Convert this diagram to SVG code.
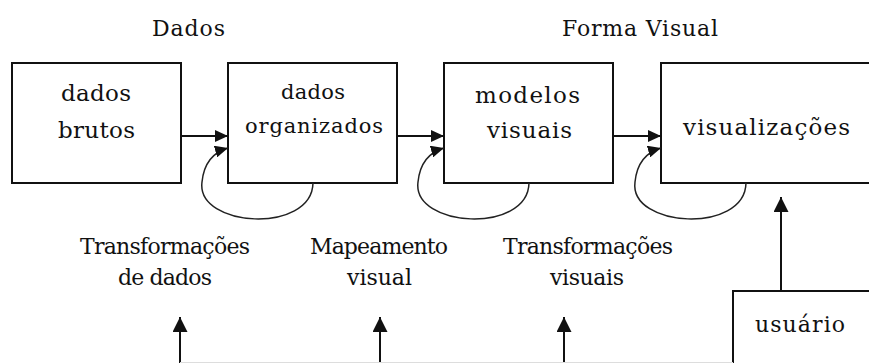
<svg xmlns="http://www.w3.org/2000/svg" width="869" height="363" viewBox="0 0 869 363">
<defs>
<style>
.box{fill:#fff;stroke:#111;stroke-width:2}
.t{font-family:'DejaVu Serif','Liberation Serif',serif;font-size:22px;fill:#111}
.b{font-size:23px}
.s{font-size:21px}
.ln{fill:none;stroke:#111;stroke-width:2}
.cv{fill:none;stroke:#222;stroke-width:1.5}
</style>
<marker id="ah" markerUnits="userSpaceOnUse" markerWidth="14" markerHeight="12" refX="13" refY="6" orient="auto">
<path d="M0,0 L13,6 L0,12 z" fill="#111"/>
</marker>
<marker id="av" markerUnits="userSpaceOnUse" markerWidth="16" markerHeight="16" refX="15" refY="7.5" orient="auto">
<path d="M0,0 L15,7.5 L0,15 z" fill="#111"/>
</marker>
</defs>
<rect width="869" height="363" fill="#fff"/>
<text class="t" x="152" y="36" textLength="73" lengthAdjust="spacing">Dados</text>
<text class="t" x="562" y="36" textLength="156" lengthAdjust="spacing">Forma Visual</text>
<g id="brutos">
<rect class="box" x="12" y="63" width="169" height="120"/>
<text class="t b" x="61" y="101" textLength="70" lengthAdjust="spacing">dados</text>
<text class="t b" x="58" y="138" textLength="77" lengthAdjust="spacing">brutos</text>
</g>
<g id="organizados">
<rect class="box" x="228" y="63" width="169" height="120"/>
<text class="t s" x="281" y="99" textLength="64" lengthAdjust="spacing">dados</text>
<text class="t s" x="245" y="133" textLength="138" lengthAdjust="spacing">organizados</text>
</g>
<g id="modelos">
<rect class="box" x="444" y="63" width="169" height="120"/>
<text class="t b" x="475" y="103" textLength="105" lengthAdjust="spacing">modelos</text>
<text class="t b" x="487" y="138" textLength="85" lengthAdjust="spacing">visuais</text>
</g>
<g id="visualizacoes">
<rect class="box" x="661" y="63" width="230" height="120"/>
<text class="t b" x="683" y="135" textLength="167" lengthAdjust="spacing">visualizações</text>
</g>
<g id="usuario">
<rect class="box" x="733" y="291" width="200" height="120"/>
<text class="t" x="755" y="332" textLength="90" lengthAdjust="spacing">usuário</text>
</g>
<g id="labels">
<text class="t" x="80" y="254" textLength="170" lengthAdjust="spacing">Transformações</text>
<text class="t" x="118" y="285" textLength="94" lengthAdjust="spacing">de dados</text>
<text class="t" x="310" y="254" textLength="138" lengthAdjust="spacing">Mapeamento</text>
<text class="t" x="347" y="285" textLength="65" lengthAdjust="spacing">visual</text>
<text class="t" x="503" y="254" textLength="170" lengthAdjust="spacing">Transformações</text>
<text class="t" x="550" y="285" textLength="74" lengthAdjust="spacing">visuais</text>
</g>
<g id="connectors">
<path class="ln" d="M181,136 L228,136" marker-end="url(#ah)"/>
<path class="ln" d="M397,136 L444,136" marker-end="url(#ah)"/>
<path class="ln" d="M613,136 L661,136" marker-end="url(#ah)"/>
<path class="cv" d="M313,183 C312,234 196,228 202,182 C204,162 214,152 228,148" marker-end="url(#ah)"/>
<path class="cv" d="M529,183 C528,234 412,228 418,182 C420,162 430,152 444,148" marker-end="url(#ah)"/>
<path class="cv" d="M746,183 C745,234 629,228 635,182 C637,162 647,152 661,148" marker-end="url(#ah)"/>
<path class="ln" d="M781,291 L781,197" marker-end="url(#av)"/>
<path class="ln" d="M180,363 L180,317" marker-end="url(#av)"/>
<path class="ln" d="M380,363 L380,317" marker-end="url(#av)"/>
<path class="ln" d="M564,363 L564,317" marker-end="url(#av)"/>
<path d="M180,362.5 L733,362.5" stroke="#ddd" stroke-width="1"/>
</g>
</svg>
